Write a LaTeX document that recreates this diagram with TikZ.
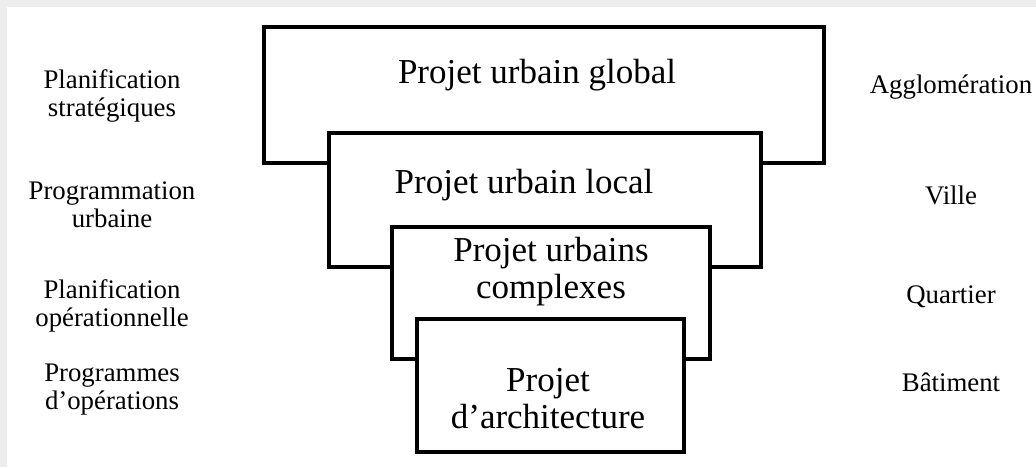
\documentclass[tikz,border=0pt]{standalone}
\usepackage{fontspec}
\setmainfont{Liberation Serif}
\usepackage{tikz}
\usetikzlibrary{positioning}

\begin{document}
\begin{tikzpicture}[x=0.5pt,y=-0.5pt]
  \tikzset{projbox/.style = {draw, line width = 2pt, fill = white,
                             inner sep = 0pt}}
  \tikzset{projtext/.style = {align = center, inner sep = 0pt,
                              font = \fontsize{17.5}{18.5}\selectfont}}
  \tikzset{sidetext/.style = {align = center, inner sep = 0pt,
                              font = \fontsize{13.4}{14}\selectfont}}
  % background of the screenshot
  \fill[black!7] (0,0) rectangle (1036,467);
  \fill[white] (7,7) rectangle (1036,467);
  \useasboundingbox (0,0) rectangle (1036,467);

  % the nested boxes, drawn from the back to the front
  \node[projbox, minimum width = 280pt, minimum height = 68pt]
       (global) at (544,95) {};
  \node[projbox, minimum width = 216pt, minimum height = 67pt]
       (local) at (545,200) {};
  \node[projbox, minimum width = 159pt, minimum height = 66pt]
       (complexe) at (551,293) {};
  \node[projbox, minimum width = 133.5pt, minimum height = 66.5pt]
       (archi) at (550.5,385.5) {};

  \node[projtext] (tglobal) at (537,75) {Projet urbain global};
  \node[projtext] (tlocal) at (524,185) {Projet urbain local};
  \node[projtext] (tcomplexe) at (551,272) {Projet urbains\\complexes};
  \node[projtext] (tarchi) at (548,399) {Projet\\d'architecture};

  % left column
  \node[sidetext] (strat) at (112,96) {Planification\\stratégiques};
  \node[sidetext] (prog) at (112,205) {Programmation\\urbaine};
  \node[sidetext] (oper) at (112,306) {Planification\\opérationnelle};
  \node[sidetext] (progop) at (112,390) {Programmes\\d'opérations};

  % right column
  \node[sidetext] (agglo) at (951,87) {Agglomération};
  \node[sidetext] (ville) at (951,195) {Ville};
  \node[sidetext] (quart) at (951,297) {Quartier};
  \node[sidetext] (bati) at (951,382) {Bâtiment};
\end{tikzpicture}
\end{document}
